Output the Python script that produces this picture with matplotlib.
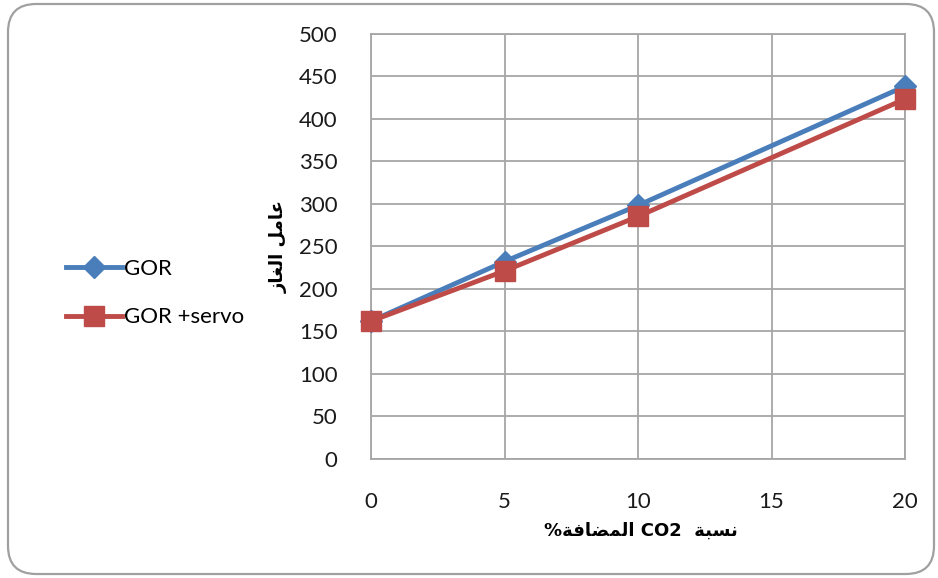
import matplotlib
matplotlib.use("Agg")
import matplotlib.pyplot as plt
from matplotlib.patches import FancyBboxPatch

# CO2 share (%) and gas-oil ratio for both setups
co2 = [0, 5, 10, 20]
gor = [162, 232, 298, 438]
gor_servo = [162, 221, 285, 423]

xticks = [0, 5, 10, 15, 20]
yticks = list(range(0, 501, 50))

# Arabic labels written in presentation forms, visual order
ylabel = "\uFEAF\uFE8E\uFED0\uFEDF\uFE8D \uFEDE\uFEE3\uFE8E\uFECB"
xlabel = "%\uFE94\uFED3\uFE8E\uFEC0\uFEE4\uFEDF\uFE8D CO2  \uFE94\uFE92\uFEB4\uFEE7"

blue = "#4a7ebb"
red = "#be4b48"
grid_c = "#a6a6a6"

plt.rcParams['font.family'] = ['Lato', 'DejaVu Sans']

fig = plt.figure(figsize=(9.38, 5.78), dpi=100)
W, H = 938, 578

# rounded outer border of the chart area
border = FancyBboxPatch((8 / W, 4 / H), 926 / W, 570 / H,
                        boxstyle="round,pad=0,rounding_size=0.03",
                        transform=fig.transFigure, fill=False,
                        edgecolor="#a0a0a0", linewidth=1.6,
                        mutation_aspect=W / H)
fig.patches.append(border)

ax = fig.add_axes([371 / W, (H - 459) / H, (905 - 371) / W, (459 - 33.5) / H])
ax.set_xlim(0, 20)
ax.set_ylim(0, 500)
ax.set_xticks(xticks)
ax.set_yticks(yticks)
ax.grid(True, color=grid_c, linewidth=1.3)
ax.set_axisbelow(True)
for s in ax.spines.values():
    s.set_color(grid_c)
    s.set_linewidth(1.3)
ax.tick_params(length=0, labelsize=16, colors="#1a1a1a", pad=24)
ax.tick_params(axis='x', pad=24)

ax.plot(co2, gor, color=blue, linewidth=3.5, marker='D', markersize=11,
        markeredgecolor=blue, label="GOR", clip_on=False, zorder=3)
ax.plot(co2, gor_servo, color=red, linewidth=3.5, marker='s', markersize=14,
        markeredgecolor=red, label="GOR +servo", clip_on=False, zorder=4)

ax.set_ylabel(ylabel, fontsize=13, fontweight='bold', family=['DejaVu Sans'])
ax.yaxis.set_label_coords(-0.155, 0.5)
ax.set_xlabel(xlabel, fontsize=13, fontweight='bold', family=['DejaVu Sans'])
ax.xaxis.set_label_coords(0.505, -0.148)

fig.legend(loc='center left', bbox_to_anchor=(46 / W, (H - 293) / H),
           frameon=False, fontsize=16, handlelength=2.5, labelspacing=1.3,
           handletextpad=0.1)

fig.savefig("out.png", dpi=100)
